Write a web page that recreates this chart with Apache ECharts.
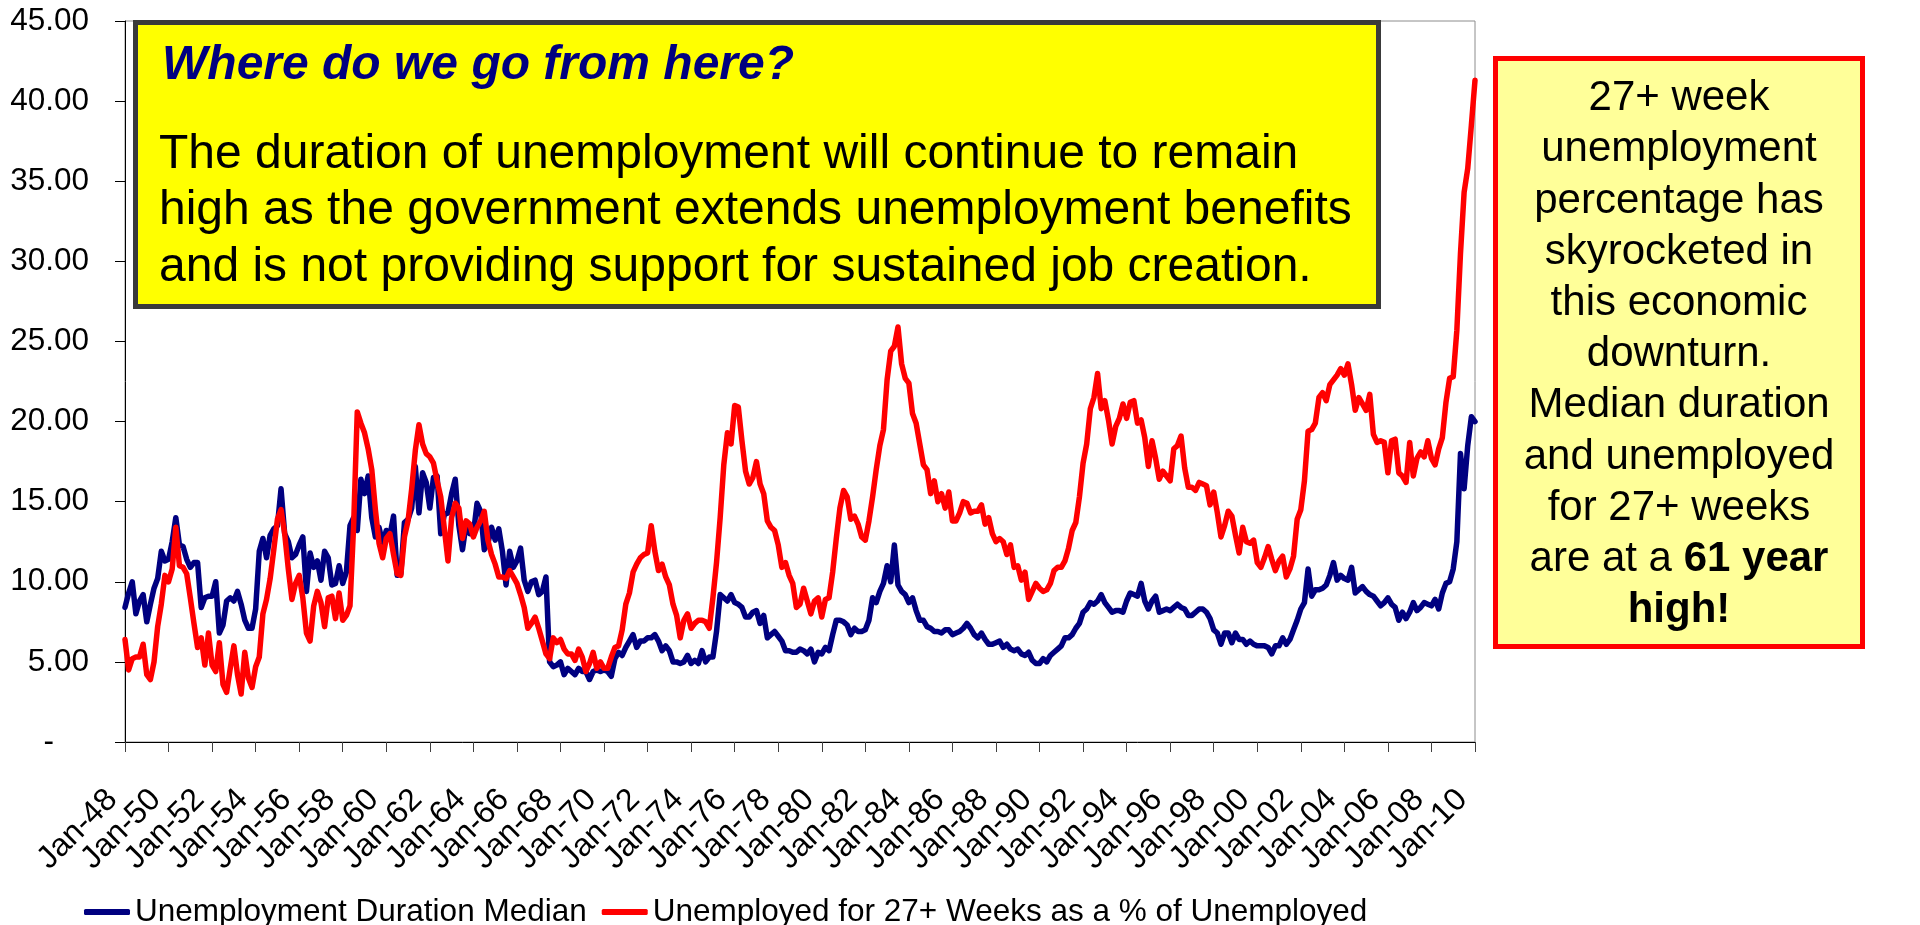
<!DOCTYPE html>
<html>
<head>
<meta charset="utf-8">
<script src="https://cdn.jsdelivr.net/npm/echarts@6/dist/echarts.min.js"></script>
<style>
  html, body { margin: 0; padding: 0; background: #ffffff; }
  #chart { width: 1920px; height: 925px; }
</style>
</head>
<body>
<div id="chart"></div>
<script>
// Month labels on the category axis run Jan-48 .. Jan-10
const MONTH_NAMES = ['Jan','Feb','Mar','Apr','May','Jun','Jul','Aug','Sep','Oct','Nov','Dec'];
const FIRST_YEAR = 1948;
const LAST_YEAR = 2010;          // series end in January of this year
const SAMPLE_STEP = 2;           // values below are given every second month (Jan, Mar, May, Jul, Sep, Nov)

// Labelled ticks, every two years
const TICK_LABELS = ['Jan-48','Jan-50','Jan-52','Jan-54','Jan-56','Jan-58','Jan-60','Jan-62','Jan-64',
  'Jan-66','Jan-68','Jan-70','Jan-72','Jan-74','Jan-76','Jan-78','Jan-80','Jan-82','Jan-84','Jan-86',
  'Jan-88','Jan-90','Jan-92','Jan-94','Jan-96','Jan-98','Jan-00','Jan-02','Jan-04','Jan-06','Jan-08','Jan-10'];

// Median duration of unemployment (weeks)
const MEDIAN_DURATION = [
  8.4, 9.3, 10.0, 8.0, 8.8, 9.2,      // 1948
  7.5, 8.6, 9.6, 10.2, 11.9, 11.3,    // 1949
  11.4, 12.5, 14.0, 12.3, 12.2, 11.4, // 1950
  10.9, 11.2, 11.2, 8.4, 9.0, 9.1,    // 1951
  9.1, 10.0, 6.8, 7.3, 8.8, 9.0,      // 1952
  8.8, 9.4, 8.6, 7.6, 7.1, 7.1,       // 1953
  8.3, 11.9, 12.7, 11.5, 12.9, 13.3,  // 1954
  13.5, 15.8, 13.0, 12.5, 11.5, 11.7, // 1955
  12.3, 12.8, 9.4, 11.8, 10.9, 11.3,  // 1956
  10.1, 11.9, 11.5, 9.8, 9.9, 11.0,   // 1957
  9.9, 10.6, 13.5, 14.0, 13.2, 16.4,  // 1958
  15.5, 16.6, 14.0, 12.8, 13.4, 12.4, // 1959
  13.2, 12.9, 14.1, 10.4, 10.5, 13.7, // 1960
  13.9, 14.6, 17.2, 14.3, 16.8, 16.2, // 1961
  14.6, 16.5, 16.6, 13.0, 14.2, 14.3, // 1962
  15.5, 16.4, 13.5, 12.0, 13.6, 13.0, // 1963
  13.0, 14.9, 14.4, 12.0, 12.4, 13.4, // 1964
  12.6, 13.3, 11.9, 9.8, 11.9, 10.9,  // 1965
  11.3, 12.1, 10.1, 9.4, 10.0, 10.1,  // 1966
  9.2, 9.4, 10.3, 5.0, 4.7, 4.8,      // 1967
  5.0, 4.2, 4.6, 4.4, 4.2, 4.6,       // 1968
  4.4, 4.4, 3.9, 4.4, 4.5, 4.4,       // 1969
  4.5, 4.4, 4.1, 5.2, 5.6, 5.4,       // 1970
  5.9, 6.3, 6.7, 5.9, 6.3, 6.3,       // 1971
  6.5, 6.5, 6.7, 6.3, 5.7, 6.0,       // 1972
  5.7, 5.0, 5.0, 4.9, 5.0, 5.4,       // 1973
  4.9, 5.1, 4.9, 5.7, 5.0, 5.3,       // 1974
  5.3, 6.9, 9.2, 9.0, 8.8, 9.2,       // 1975
  8.7, 8.6, 8.4, 7.8, 7.8, 8.1,       // 1976
  8.2, 7.4, 7.9, 6.5, 6.7, 6.9,       // 1977
  6.6, 6.3, 5.7, 5.7, 5.6, 5.6,       // 1978
  5.8, 5.7, 5.5, 5.8, 5.0, 5.6,       // 1979
  5.5, 5.9, 5.7, 6.7, 7.6, 7.6,       // 1980
  7.5, 7.3, 6.7, 7.1, 6.9, 6.9,       // 1981
  7.0, 7.6, 9.0, 8.7, 9.4, 9.9,       // 1982
  11.0, 10.0, 12.3, 9.8, 9.4, 9.2,    // 1983
  8.7, 9.0, 8.2, 7.6, 7.6, 7.2,       // 1984
  7.1, 6.9, 6.9, 6.8, 7.0, 7.0,       // 1985
  6.7, 6.8, 6.9, 7.1, 7.4, 7.1,       // 1986
  6.7, 6.5, 6.8, 6.4, 6.1, 6.1,       // 1987
  6.2, 6.3, 5.9, 6.1, 5.8, 5.7,       // 1988
  5.8, 5.5, 5.4, 5.6, 5.1, 4.9,       // 1989
  4.9, 5.2, 5.0, 5.4, 5.6, 5.8,       // 1990
  6.0, 6.5, 6.5, 6.7, 7.1, 7.4,       // 1991
  8.1, 8.3, 8.7, 8.6, 8.8, 9.2,       // 1992
  8.7, 8.4, 8.1, 8.2, 8.2, 8.1,       // 1993
  8.8, 9.3, 9.2, 9.1, 9.9, 8.8,       // 1994
  8.3, 8.8, 9.1, 8.1, 8.2, 8.3,       // 1995
  8.2, 8.4, 8.6, 8.4, 8.3, 7.9,       // 1996
  7.9, 8.1, 8.3, 8.3, 8.1, 7.7,       // 1997
  7.0, 6.8, 6.1, 6.8, 6.8, 6.2,       // 1998
  6.8, 6.4, 6.4, 6.1, 6.3, 6.1,       // 1999
  6.0, 6.0, 6.0, 5.9, 5.5, 6.0,       // 2000
  6.0, 6.5, 6.1, 6.4, 7.0, 7.6,       // 2001
  8.3, 8.7, 10.8, 9.1, 9.5, 9.5,      // 2002
  9.6, 9.8, 10.4, 11.2, 10.1, 10.4,   // 2003
  10.2, 10.1, 10.9, 9.3, 9.5, 9.7,    // 2004
  9.4, 9.2, 9.1, 8.8, 8.5, 8.7,       // 2005
  9.0, 8.6, 8.4, 7.6, 8.1, 7.7,       // 2006
  8.1, 8.7, 8.2, 8.4, 8.7, 8.6,       // 2007
  8.5, 8.9, 8.3, 9.3, 9.9, 10.0,      // 2008
  10.8, 12.5, 18.0, 15.8, 18.5, 20.3, // 2009
  20.0                                // Jan 2010
];

// Unemployed for 27 weeks and over, as a percentage of all unemployed
const LONG_TERM_SHARE = [
  6.4, 4.5, 5.2, 5.3, 5.3, 6.1,       // 1948
  4.2, 3.9, 5.0, 7.2, 8.6, 10.4,      // 1949
  10.0, 10.8, 13.4, 11.0, 10.9, 10.5, // 1950
  9.0, 7.4, 5.9, 6.5, 4.8, 6.8,       // 1951
  4.8, 4.4, 6.2, 3.6, 3.1, 4.6,       // 1952
  6.0, 4.2, 3.0, 5.6, 4.0, 3.4,       // 1953
  4.7, 5.3, 8.0, 8.9, 10.2, 12.0,     // 1954
  13.9, 14.5, 13.0, 10.8, 8.9, 9.9,   // 1955
  10.4, 9.0, 6.8, 6.3, 8.5, 9.4,      // 1956
  8.7, 7.2, 9.0, 9.1, 7.7, 9.3,       // 1957
  7.6, 7.9, 8.5, 13.5, 20.6, 19.9,    // 1958
  19.3, 18.3, 17.0, 14.5, 12.4, 11.5, // 1959
  12.7, 13.0, 11.7, 10.5, 10.4, 12.8, // 1960
  13.8, 15.8, 18.2, 19.8, 18.6, 18.0, // 1961
  17.8, 17.4, 16.3, 15.3, 13.3, 11.3, // 1962
  14.0, 14.9, 14.6, 12.7, 13.8, 13.6, // 1963
  12.8, 13.4, 13.8, 14.4, 12.6, 11.7, // 1964
  11.1, 10.3, 10.3, 10.2, 10.7, 10.3, // 1965
  9.9, 9.2, 8.4, 7.1, 7.4, 7.8,       // 1966
  7.1, 6.3, 5.5, 5.2, 6.5, 6.2,       // 1967
  6.4, 5.8, 5.5, 5.5, 5.1, 5.8,       // 1968
  5.3, 4.4, 4.9, 5.6, 4.6, 5.0,       // 1969
  4.6, 4.6, 5.3, 5.9, 6.0, 7.0,       // 1970
  8.6, 9.3, 10.6, 11.1, 11.5, 11.7,   // 1971
  11.8, 13.5, 11.9, 10.7, 11.1, 10.3, // 1972
  9.8, 8.6, 7.9, 6.5, 7.6, 8.0,       // 1973
  7.1, 7.4, 7.6, 7.6, 7.5, 7.1,       // 1974
  9.0, 11.2, 14.0, 17.3, 19.3, 18.6,  // 1975
  21.0, 20.9, 18.8, 16.9, 16.1, 16.5, // 1976
  17.5, 16.1, 15.5, 13.8, 13.4, 13.2, // 1977
  12.3, 10.9, 11.2, 10.4, 9.9, 8.4,   // 1978
  8.6, 9.6, 8.8, 8.0, 8.8, 9.0,       // 1979
  7.8, 8.9, 9.0, 10.6, 12.7, 14.6,    // 1980
  15.7, 15.3, 13.9, 14.1, 13.6, 12.8, // 1981
  12.6, 13.8, 15.3, 17.0, 18.5, 19.5, // 1982
  22.6, 24.4, 24.7, 25.9, 23.6, 22.7, // 1983
  22.4, 20.5, 19.9, 18.6, 17.3, 17.0, // 1984
  15.5, 16.3, 15.0, 15.5, 14.6, 15.6, // 1985
  13.8, 13.8, 14.3, 15.0, 14.9, 14.3, // 1986
  14.4, 14.4, 14.8, 13.6, 14.0, 13.0, // 1987
  12.5, 12.7, 12.5, 11.7, 12.3, 10.9, // 1988
  11.0, 10.1, 10.6, 8.9, 9.4, 9.9,    // 1989
  9.6, 9.4, 9.5, 9.9, 10.7, 10.9,     // 1990
  10.9, 11.3, 12.1, 13.2, 13.7, 15.3, // 1991
  17.4, 18.6, 20.8, 21.5, 23.0, 20.8, // 1992
  21.3, 20.1, 18.6, 19.7, 20.2, 21.1, // 1993
  20.2, 21.2, 21.3, 19.9, 20.1, 19.0, // 1994
  17.2, 18.8, 17.7, 16.4, 16.9, 16.6, // 1995
  16.3, 18.3, 18.5, 19.1, 17.1, 15.9, // 1996
  15.9, 15.7, 16.2, 16.1, 16.0, 14.8, // 1997
  15.6, 14.3, 12.8, 13.5, 14.4, 14.1, // 1998
  12.9, 11.8, 13.4, 12.5, 12.4, 12.6, // 1999
  11.2, 10.9, 11.5, 12.2, 11.4, 10.7, // 2000
  11.3, 11.6, 10.3, 10.8, 11.6, 13.9, // 2001
  14.5, 16.3, 19.4, 19.5, 19.9, 21.5, // 2002
  21.8, 21.3, 22.3, 22.6, 22.9, 23.3, // 2003
  22.9, 23.6, 22.3, 20.7, 21.5, 21.1, // 2004
  20.7, 21.7, 19.2, 18.7, 18.8, 18.7, // 2005
  16.8, 18.8, 18.9, 16.8, 16.6, 16.2, // 2006
  18.7, 16.6, 17.7, 18.1, 17.8, 18.8, // 2007
  17.7, 17.3, 18.3, 19.0, 21.2, 22.7, // 2008
  22.8, 25.7, 30.5, 34.3, 35.8, 38.5, // 2009
  41.3                                // Jan 2010
];

const SERIES_NAMES = ['Unemployment Duration Median', 'Unemployed for 27+ Weeks as a % of Unemployed'];

// Monthly category axis
const categories = [];
for (let y = FIRST_YEAR; y < LAST_YEAR; y++) {
  for (let m = 0; m < 12; m++) {
    categories.push(MONTH_NAMES[m] + '-' + String(y % 100).padStart(2, '0'));
  }
}
categories.push(MONTH_NAMES[0] + '-' + String(LAST_YEAR % 100).padStart(2, '0'));

// place each value on its month of the category axis
const toPoints = values => values.map((v, k) => [k * SAMPLE_STEP, v]);

const FONT = '"Liberation Sans", Arial, Helvetica, sans-serif';
const isLabelled = (idx) => TICK_LABELS.indexOf(categories[idx]) !== -1;

const chart = echarts.init(document.getElementById('chart'), null, { renderer: 'canvas' });

chart.setOption({
  animation: false,
  backgroundColor: '#ffffff',
  grid: {
    left: 125, right: 445, top: 21, bottom: 183,
    show: true, borderColor: '#8c8c8c', borderWidth: 1, backgroundColor: 'transparent'
  },
  legend: {
    data: SERIES_NAMES,
    left: 79, top: 891,
    icon: 'roundRect',
    itemWidth: 46, itemHeight: 6, itemGap: 15,
    textStyle: { fontFamily: FONT, fontSize: 31.5, color: '#000000' }
  },
  xAxis: {
    type: 'category',
    data: categories,
    boundaryGap: false,
    axisLine: { show: true, lineStyle: { color: '#000000', width: 1 } },
    axisTick: { show: true, interval: isLabelled, length: 10, lineStyle: { color: '#404040' } },
    axisLabel: {
      // every category gets a label slot; only the two-yearly January ones carry text
      interval: 0,
      formatter: (value) => TICK_LABELS.indexOf(value) !== -1 ? value : '',
      rotate: 45,
      margin: 40,
      padding: [0, 18, 0, 0],
      fontFamily: FONT, fontSize: 32, color: '#000000'
    },
    splitLine: { show: false }
  },
  yAxis: {
    type: 'value',
    min: 0, max: 45, interval: 5,
    axisLine: { show: true, lineStyle: { color: '#000000', width: 1 } },
    axisTick: { show: true, length: 10, lineStyle: { color: '#000000' } },
    axisLabel: {
      margin: 36,
      fontFamily: FONT, fontSize: 31.5, color: '#000000',
      formatter: v => v === 0 ? '{dash|-}' : v.toFixed(2),
      rich: { dash: { fontFamily: FONT, fontSize: 31.5, color: '#000000', padding: [0, 35, 0, 0] } }
    },
    splitLine: { show: false }
  },
  series: [
    {
      name: SERIES_NAMES[0], type: 'line',
      data: toPoints(MEDIAN_DURATION),
      showSymbol: false, symbol: 'none',
      color: '#000080',
      lineStyle: { width: 5.5, color: '#000080', join: 'round', cap: 'round' },
      z: 2
    },
    {
      name: SERIES_NAMES[1], type: 'line',
      data: toPoints(LONG_TERM_SHARE),
      showSymbol: false, symbol: 'none',
      color: '#ff0000',
      lineStyle: { width: 5.5, color: '#ff0000', join: 'round', cap: 'round' },
      z: 3
    }
  ],
  graphic: [
    // Outlook box
    {
      type: 'rect', z: 100,
      shape: { x: 135.5, y: 22.5, width: 1243, height: 284 },
      style: { fill: '#ffff00', stroke: '#3a3a3a', lineWidth: 5 }
    },
    {
      type: 'text', z: 101,
      style: {
        x: 162, y: 66, text: 'Where do we go from here?',
        font: 'italic bold 48px ' + FONT, fill: '#000080',
        textAlign: 'left', textVerticalAlign: 'middle'
      }
    },
    {
      type: 'text', z: 101,
      style: {
        x: 159, y: 155, text: 'The duration of unemployment will continue to remain',
        font: '48px ' + FONT, fill: '#000000', textAlign: 'left', textVerticalAlign: 'middle'
      }
    },
    {
      type: 'text', z: 101,
      style: {
        x: 159, y: 211, text: 'high as the government extends unemployment benefits',
        font: '48px ' + FONT, fill: '#000000', textAlign: 'left', textVerticalAlign: 'middle'
      }
    },
    {
      type: 'text', z: 101,
      style: {
        x: 159, y: 268, text: 'and is not providing support for sustained job creation.',
        font: '48px ' + FONT, fill: '#000000', textAlign: 'left', textVerticalAlign: 'middle'
      }
    },
    // Side note
    {
      type: 'rect', z: 100,
      shape: { x: 1495.5, y: 58.5, width: 367, height: 588 },
      style: { fill: '#ffff99', stroke: '#ff0000', lineWidth: 5 }
    },
    {
      type: 'text', z: 101,
      style: {
        x: 1679, y: 73,
        text: '27+ week\nunemployment\npercentage has\nskyrocketed in\nthis economic\ndownturn.\nMedian duration\nand unemployed\nfor 27+ weeks\nare at a {b|61 year}\n{b|high!}',
        fontFamily: FONT, fontSize: 42, fill: '#000000', lineHeight: 51.2,
        textAlign: 'center', textVerticalAlign: 'top',
        rich: { b: { fontFamily: FONT, fontSize: 42, fontWeight: 'bold', lineHeight: 51.2, fill: '#000000' } }
      }
    }
  ]
});
</script>
</body>
</html>
